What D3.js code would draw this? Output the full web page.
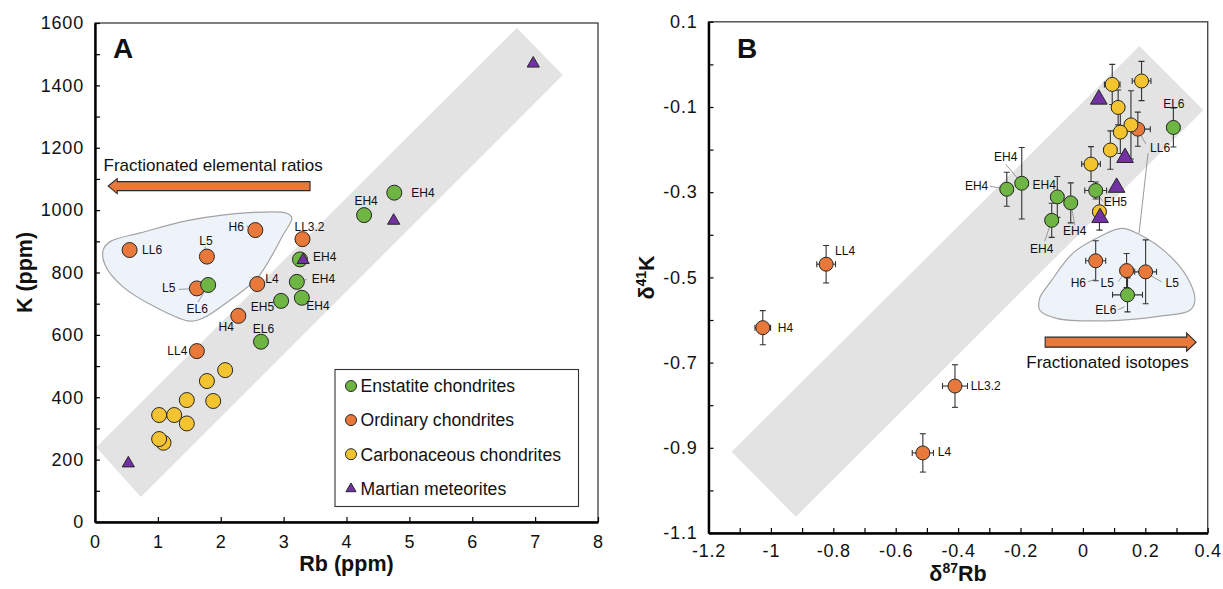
<!DOCTYPE html>
<html>
<head>
<meta charset="utf-8">
<script src="https://cdn.jsdelivr.net/npm/d3@7"></script>
<style>
  body { margin: 0; background: #fff; }
  svg { display: block; }
  text { font-family: "Liberation Sans", Arial, Helvetica, sans-serif; fill: #111; }
</style>
</head>
<body>
<svg id="chart" width="1223" height="589"></svg>
<script>
// ===================== Panel A: Rb vs K (ppm) =====================
const rbTicksA = d3.range(0, 9, 1);
const kTicksA = d3.range(0, 1601, 100);
const kLabelsA = d3.range(0, 1601, 200);

const enstatiteA = [
  { rb: 4.76, k: 1056, name: "EH4" },
  { rb: 4.28, k: 984, name: "EH4" },
  { rb: 3.26, k: 842, name: "EH4" },
  { rb: 3.21, k: 770, name: "EH4" },
  { rb: 3.29, k: 719, name: "EH4" },
  { rb: 2.96, k: 709, name: "EH5" },
  { rb: 2.64, k: 578, name: "EL6" },
  { rb: 1.80, k: 760, name: "EL6" }
];
const ordinaryA = [
  { rb: 0.55, k: 872, name: "LL6" },
  { rb: 1.78, k: 851, name: "L5" },
  { rb: 2.55, k: 936, name: "H6" },
  { rb: 3.30, k: 907, name: "LL3.2" },
  { rb: 2.58, k: 763, name: "L4" },
  { rb: 1.62, k: 749, name: "L5" },
  { rb: 2.28, k: 661, name: "H4" },
  { rb: 1.62, k: 548, name: "LL4" }
];
const carbonaceousA = [
  { rb: 2.07, k: 487 }, { rb: 1.78, k: 452 }, { rb: 1.46, k: 391 },
  { rb: 1.88, k: 388 }, { rb: 1.02, k: 343 }, { rb: 1.26, k: 343 },
  { rb: 1.46, k: 316 }, { rb: 1.09, k: 254 }, { rb: 1.02, k: 266 }
];
const martianA = [
  { rb: 0.53, k: 188 }, { rb: 6.97, k: 1470 }, { rb: 4.75, k: 966 }, { rb: 3.31, k: 840 }
];
// trend band and the grouped-sample envelope, in data units
const bandA = [[0.02, 240], [0.73, 80], [7.44, 1433], [6.71, 1584]];
const envelopeA = [
  [0.13, 872], [0.24, 899], [0.72, 927], [1.51, 968], [2.46, 992], [3.05, 990],
  [3.13, 975], [2.99, 920], [2.58, 782], [2.15, 712], [1.72, 654], [1.51, 644],
  [0.99, 686], [0.45, 753], [0.16, 824]
];
const arrowA = { from: [3.42, 1077], to: [0.21, 1077], text: "Fractionated elemental ratios", textAt: [1.88, 1127] };

// ===================== Panel B: δ87Rb vs δ41K =====================
const rbTicksB = d3.range(-12, 5, 1).map(v => v / 10);
const rbLabelsB = d3.range(-12, 5, 2).map(v => v / 10);
const kTicksB = d3.range(-11, 2, 1).map(v => v / 10);
const kLabelsB = d3.range(-11, 2, 2).map(v => v / 10);

const enstatiteB = [
  { rb: 0.290, k: -0.148, xe: 0.02, ye: 0.046, name: "EL6" },
  { rb: -0.244, k: -0.293, xe: 0.02, ye: 0.040, name: "EH4" },
  { rb: -0.196, k: -0.279, xe: 0.02, ye: 0.084, name: "EH4" },
  { rb: -0.082, k: -0.311, xe: 0.02, ye: 0.048, name: "EH4" },
  { rb: -0.039, k: -0.325, xe: 0.02, ye: 0.047, name: "EH4" },
  { rb: -0.100, k: -0.366, xe: 0.02, ye: 0.040, name: "EH4" },
  { rb: 0.041, k: -0.296, xe: 0.035, ye: 0.020, name: "EH5" },
  { rb: 0.143, k: -0.541, xe: 0.048, ye: 0.040, name: "EL6" }
];
const ordinaryB = [
  { rb: -0.823, k: -0.469, xe: 0.030, ye: 0.044, name: "LL4" },
  { rb: -1.026, k: -0.618, xe: 0.025, ye: 0.040, name: "H4" },
  { rb: -0.513, k: -0.912, xe: 0.034, ye: 0.045, name: "L4" },
  { rb: -0.410, k: -0.755, xe: 0.040, ye: 0.050, name: "LL3.2" },
  { rb: 0.176, k: -0.152, xe: 0.040, ye: 0.040, name: "LL6" },
  { rb: 0.041, k: -0.461, xe: 0.032, ye: 0.047, name: "H6" },
  { rb: 0.140, k: -0.484, xe: 0.020, ye: 0.040, name: "L5" },
  { rb: 0.201, k: -0.487, xe: 0.035, ye: 0.075, name: "L5" }
];
const carbonaceousB = [
  { rb: 0.094, k: -0.047, xe: 0.025, ye: 0.047 },
  { rb: 0.188, k: -0.039, xe: 0.030, ye: 0.046 },
  { rb: 0.113, k: -0.101, xe: 0.020, ye: 0.041 },
  { rb: 0.154, k: -0.142, xe: 0.020, ye: 0.080 },
  { rb: 0.120, k: -0.159, xe: 0.020, ye: 0.050 },
  { rb: 0.088, k: -0.201, xe: 0.020, ye: 0.045 },
  { rb: 0.026, k: -0.234, xe: 0.030, ye: 0.041 },
  { rb: 0.053, k: -0.346, xe: 0.020, ye: 0.043 }
];
const martianB = [
  { rb: 0.051, k: -0.082 }, { rb: 0.135, k: -0.219 }, { rb: 0.108, k: -0.289 }, { rb: 0.055, k: -0.360 }
];
const bandB = [[-1.126, -0.909], [-0.920, -1.062], [0.386, -0.107], [0.181, 0.043]];
const envelopeB = [
  [0.124, -0.385], [0.183, -0.400], [0.269, -0.443], [0.333, -0.498], [0.359, -0.553],
  [0.343, -0.577], [0.247, -0.591], [0.076, -0.602], [-0.084, -0.596], [-0.138, -0.577],
  [-0.138, -0.548], [-0.106, -0.513], [-0.032, -0.443], [0.055, -0.404]
];
const envelopeLinkB = [[0.180, -0.396], [0.209, -0.208]];
const arrowB = { from: [-0.121, -0.652], to: [0.363, -0.652], text: "Fractionated isotopes", textAt: [0.079, -0.713] };

// ---------- label placement (pixel offsets from each marker) ----------
// [dx, dy, anchor, leader [x1, y1, x2, y2] or null]
const enstatiteLabelsA = [
  [17, 4.5, "start", null], [2, -10, "middle", null], [13, 2, "start", null],
  [15, 1.5, "start", [0, 0, 10, -2.3]], [4.5, 12.5, "start", null],
  [-7, 10, "end", null], [2.5, -9, "middle", null], [-11, 28, "middle", [0, 0, -10, 17]]
];
const ordinaryLabelsA = [
  [12.5, 3.5, "start", null], [-1, -11.5, "middle", [0, 0, -2, -10]],
  [-11.5, 0.5, "end", [-9, -4, 0, 0]], [-8, -8.5, "start", null],
  [8, -1.5, "start", null], [-21.5, 4, "end", [-18, 1, 0, 0]],
  [-4.5, 15.3, "end", null], [-9.5, 4, "end", null]
];
const enstatiteLabelsB = [
  [0.5, -19, "middle", null], [-18.5, 1, "end", [-17, -3, 0, 0]],
  [-16, -22, "middle", [-16, -19, 0, 0]], [-1.5, -7.7, "end", null],
  [4, 32, "middle", [0, 0, 4, 22]], [-10, 32.5, "middle", [0, 0, -7, 21]],
  [8, 16, "start", [0, 0, 7, 11]], [-11, 19, "end", [-9.4, 15, -2.7, 11.7]]
];
const ordinaryLabelsB = [
  [9, -9, "start", null], [15, 4, "start", null], [15, 3.5, "start", null],
  [15.7, 4, "start", null], [12.3, 23, "start", [0, 0, 8, 15]],
  [-9.7, 26, "end", [-8, 21, -1, 18.7]], [-12.7, 16, "end", [-8.5, 11, -2, 3]],
  [20, 15, "start", [2, 2, 16, 10]]
];

const legendItems = [
  { name: "Enstatite chondrites", type: "enstatite" },
  { name: "Ordinary chondrites", type: "ordinary" },
  { name: "Carbonaceous chondrites", type: "carbonaceous" },
  { name: "Martian meteorites", type: "martian" }
];

// ---------- styles ----------
const colors = { enstatite: "#6fb544", ordinary: "#e9793a", carbonaceous: "#f4c430", martian: "#7332a4" };
const outline = "#262626";
const bandFill = "#e3e3e3";
const envFill = "#eef3fa";
const envStroke = "#a3a3a3";
const leaderColor = "#9a9a9a";

const svg = d3.select("#chart");

const xA = d3.scaleLinear().domain([0, 8]).range([95, 598]);
const yA = d3.scaleLinear().domain([0, 1600]).range([522, 23]);
const xB = d3.scaleLinear().domain([-1.2, 0.4]).range([708.5, 1207.7]);
const yB = d3.scaleLinear().domain([-1.1, 0.1]).range([533, 21.8]);

function panel(g, x, y, opts) {
  const [x0, x1] = x.range();
  const [y0, y1] = y.range();
  g.append("rect").attr("x", x0).attr("y", y1).attr("width", x1 - x0).attr("height", y0 - y1)
    .attr("fill", "#fff").attr("stroke", "#4a4a4a").attr("stroke-width", 1.4);
  const clipId = "clip" + opts.id;
  svg.append("clipPath").attr("id", clipId).append("rect")
    .attr("x", x0).attr("y", y1).attr("width", x1 - x0).attr("height", y0 - y1);
  const plot = g.append("g").attr("clip-path", `url(#${clipId})`);
  return plot;
}

function drawAxes(g, x, y, opts) {
  const [x0] = x.range();
  const [y0] = y.range();
  const bottom = d3.axisBottom(x).tickValues(opts.xTicks).tickSizeInner(-5).tickSizeOuter(0)
    .tickPadding(opts.xPad)
    .tickFormat(d => opts.xLabels.some(v => Math.abs(v - d) < 1e-9) ? opts.xFmt(d) : "");
  const left = d3.axisLeft(y).tickValues(opts.yTicks).tickSizeInner(-5).tickSizeOuter(0)
    .tickPadding(11)
    .tickFormat(d => opts.yLabels.some(v => Math.abs(v - d) < 1e-9) ? opts.yFmt(d) : "");
  const gb = g.append("g").attr("transform", `translate(0,${y0})`).call(bottom);
  const gl = g.append("g").attr("transform", `translate(${x0},0)`).call(left);
  [gb, gl].forEach(a => {
    a.select(".domain").attr("stroke", "#000").attr("stroke-width", 2.4);
    a.selectAll(".tick line").attr("stroke", "#000").attr("stroke-width", 1.2);
    a.selectAll(".tick text").attr("font-size", 18).attr("letter-spacing", 0.8)
      .attr("fill", "#111").attr("font-family", '"Liberation Sans", Arial, sans-serif');
  });
}

function drawBand(plot, x, y, pts) {
  plot.append("path")
    .attr("d", d3.line().x(d => x(d[0])).y(d => y(d[1]))(pts) + "Z")
    .attr("fill", bandFill);
}

function drawEnvelope(plot, x, y, pts) {
  plot.append("path")
    .attr("d", d3.line().x(d => x(d[0])).y(d => y(d[1])).curve(d3.curveCatmullRomClosed.alpha(0.5))(pts))
    .attr("fill", envFill).attr("stroke", envStroke).attr("stroke-width", 1.2);
}

function drawArrow(g, x, y, a, shaftH, headH, headL) {
  const xs = x(a.from[0]), xe = x(a.to[0]), yc = y(a.from[1]);
  const dir = Math.sign(xe - xs);
  const xb = xe - dir * headL;
  const p = d3.path();
  p.moveTo(xs, yc - shaftH / 2);
  p.lineTo(xb, yc - shaftH / 2);
  p.lineTo(xb, yc - headH / 2);
  p.lineTo(xe, yc);
  p.lineTo(xb, yc + headH / 2);
  p.lineTo(xb, yc + shaftH / 2);
  p.lineTo(xs, yc + shaftH / 2);
  p.closePath();
  g.append("path").attr("d", p.toString()).attr("fill", colors.ordinary)
    .attr("stroke", "#2a2a2a").attr("stroke-width", 1.1);
  g.append("text").attr("x", x(a.textAt[0])).attr("y", y(a.textAt[1]))
    .attr("text-anchor", "middle").attr("font-size", 17).text(a.text);
}

function drawLeaders(g, x, y, data, layout) {
  data.forEach((d, i) => {
    const L = layout[i][3];
    if (!L) return;
    const px = x(d.rb), py = y(d.k);
    g.append("line").attr("x1", px + L[0]).attr("y1", py + L[1])
      .attr("x2", px + L[2]).attr("y2", py + L[3])
      .attr("stroke", leaderColor).attr("stroke-width", 1);
  });
}

function drawLabels(g, x, y, data, layout) {
  data.forEach((d, i) => {
    const [dx, dy, anchor] = layout[i];
    g.append("text").attr("x", x(d.rb) + dx).attr("y", y(d.k) + dy)
      .attr("text-anchor", anchor).attr("font-size", 12).text(d.name);
  });
}

function drawErrorBars(g, x, y, data) {
  const cap = 3;
  data.forEach(d => {
    const px = x(d.rb), py = y(d.k);
    const yt = y(d.k + d.ye), yb = y(d.k - d.ye);
    const xl = x(d.rb - d.xe), xr = x(d.rb + d.xe);
    const e = g.append("g").attr("stroke", "#333").attr("stroke-width", 1.1);
    e.append("line").attr("x1", px).attr("x2", px).attr("y1", yt).attr("y2", yb);
    e.append("line").attr("x1", px - cap).attr("x2", px + cap).attr("y1", yt).attr("y2", yt);
    e.append("line").attr("x1", px - cap).attr("x2", px + cap).attr("y1", yb).attr("y2", yb);
    e.append("line").attr("x1", xl).attr("x2", xr).attr("y1", py).attr("y2", py);
    e.append("line").attr("x1", xl).attr("x2", xl).attr("y1", py - cap).attr("y2", py + cap);
    e.append("line").attr("x1", xr).attr("x2", xr).attr("y1", py - cap).attr("y2", py + cap);
  });
}

function drawCircles(g, x, y, data, color, r) {
  g.selectAll(null).data(data).enter().append("circle")
    .attr("cx", d => x(d.rb)).attr("cy", d => y(d.k)).attr("r", r)
    .attr("fill", color).attr("stroke", outline).attr("stroke-width", 1);
}

function drawTriangles(g, x, y, data, size) {
  const sym = d3.symbol().type(d3.symbolTriangle).size(size);
  g.selectAll(null).data(data).enter().append("path")
    .attr("d", sym).attr("transform", d => `translate(${x(d.rb)},${y(d.k)})`)
    .attr("fill", colors.martian).attr("stroke", outline).attr("stroke-width", 1);
}

// ------------------------------ draw A ------------------------------
const gA = svg.append("g");
const plotA = panel(gA, xA, yA, { id: "A" });
drawBand(plotA, xA, yA, bandA);
drawEnvelope(plotA, xA, yA, envelopeA);
drawArrow(plotA, xA, yA, arrowA, 9, 15, 9);
drawLeaders(plotA, xA, yA, enstatiteA, enstatiteLabelsA);
drawLeaders(plotA, xA, yA, ordinaryA, ordinaryLabelsA);
drawCircles(plotA, xA, yA, ordinaryA, colors.ordinary, 7.5);
drawCircles(plotA, xA, yA, enstatiteA, colors.enstatite, 7.5);
drawCircles(plotA, xA, yA, carbonaceousA, colors.carbonaceous, 7.5);
drawTriangles(plotA, xA, yA, martianA, 64);
drawLabels(plotA, xA, yA, enstatiteA, enstatiteLabelsA);
drawLabels(plotA, xA, yA, ordinaryA, ordinaryLabelsA);

// legend
const leg = gA.append("g");
leg.append("rect").attr("x", 335).attr("y", 369.5).attr("width", 243.5).attr("height", 137)
  .attr("fill", "#fff").attr("stroke", "#333").attr("stroke-width", 1.1);
legendItems.forEach((it, i) => {
  const cy = 386 + i * 34.1;
  if (it.type === "martian") {
    leg.append("path").attr("d", d3.symbol().type(d3.symbolTriangle).size(44)())
      .attr("transform", `translate(351,${cy + 0.5})`)
      .attr("fill", colors.martian).attr("stroke", outline).attr("stroke-width", 1);
  } else {
    leg.append("circle").attr("cx", 351).attr("cy", cy).attr("r", 5.5)
      .attr("fill", colors[it.type]).attr("stroke", outline).attr("stroke-width", 1);
  }
  leg.append("text").attr("x", 360.5).attr("y", cy + 6.3).attr("font-size", 17.6).text(it.name);
});

drawAxes(gA, xA, yA, {
  xTicks: rbTicksA, xLabels: rbTicksA, xFmt: d3.format("d"), xPad: 13,
  yTicks: kTicksA, yLabels: kLabelsA, yFmt: d3.format("d")
});
gA.append("text").attr("x", 113).attr("y", 57.5).attr("font-size", 28).attr("font-weight", "bold").text("A");
gA.append("text").attr("x", 346.5).attr("y", 571).attr("text-anchor", "middle")
  .attr("font-size", 21.5).attr("font-weight", "bold").text("Rb (ppm)");
gA.append("text").attr("transform", "translate(32,272.5) rotate(-90)").attr("text-anchor", "middle")
  .attr("font-size", 21.5).attr("font-weight", "bold").text("K (ppm)");

// ------------------------------ draw B ------------------------------
const gB = svg.append("g");
const plotB = panel(gB, xB, yB, { id: "B" });
drawBand(plotB, xB, yB, bandB);
drawEnvelope(plotB, xB, yB, envelopeB);
plotB.append("line")
  .attr("x1", xB(envelopeLinkB[0][0])).attr("y1", yB(envelopeLinkB[0][1]))
  .attr("x2", xB(envelopeLinkB[1][0])).attr("y2", yB(envelopeLinkB[1][1]))
  .attr("stroke", leaderColor).attr("stroke-width", 1);
drawArrow(plotB, xB, yB, arrowB, 10, 18, 9.5);
drawLeaders(plotB, xB, yB, enstatiteB, enstatiteLabelsB);
drawLeaders(plotB, xB, yB, ordinaryB, ordinaryLabelsB);
drawErrorBars(plotB, xB, yB, ordinaryB);
drawErrorBars(plotB, xB, yB, enstatiteB);
drawErrorBars(plotB, xB, yB, carbonaceousB);
drawCircles(plotB, xB, yB, ordinaryB, colors.ordinary, 7);
drawCircles(plotB, xB, yB, enstatiteB, colors.enstatite, 7);
drawCircles(plotB, xB, yB, carbonaceousB, colors.carbonaceous, 7);
drawTriangles(plotB, xB, yB, martianB, 120);
drawLabels(plotB, xB, yB, enstatiteB, enstatiteLabelsB);
drawLabels(plotB, xB, yB, ordinaryB, ordinaryLabelsB);

drawAxes(gB, xB, yB, {
  xTicks: rbTicksB, xLabels: rbLabelsB, xFmt: d => d3.format("")(+d.toFixed(1)).replace("−", "-"), xPad: 11.5,
  yTicks: kTicksB, yLabels: kLabelsB, yFmt: d => d3.format("")(+d.toFixed(1)).replace("−", "-")
});
gB.append("text").attr("x", 737).attr("y", 57.5).attr("font-size", 28).attr("font-weight", "bold").text("B");
const tx = gB.append("text").attr("x", 958).attr("y", 581).attr("text-anchor", "middle")
  .attr("font-size", 21.5).attr("font-weight", "bold");
tx.append("tspan").text("δ");
tx.append("tspan").attr("font-size", 14).attr("dy", -8).text("87");
tx.append("tspan").attr("dy", 8).text("Rb");
const ty = gB.append("text").attr("transform", "translate(654,277.5) rotate(-90)").attr("text-anchor", "middle")
  .attr("font-size", 21.5).attr("font-weight", "bold");
ty.append("tspan").text("δ");
ty.append("tspan").attr("font-size", 14).attr("dy", -8).text("41");
ty.append("tspan").attr("dy", 8).text("K");
</script>
</body>
</html>
